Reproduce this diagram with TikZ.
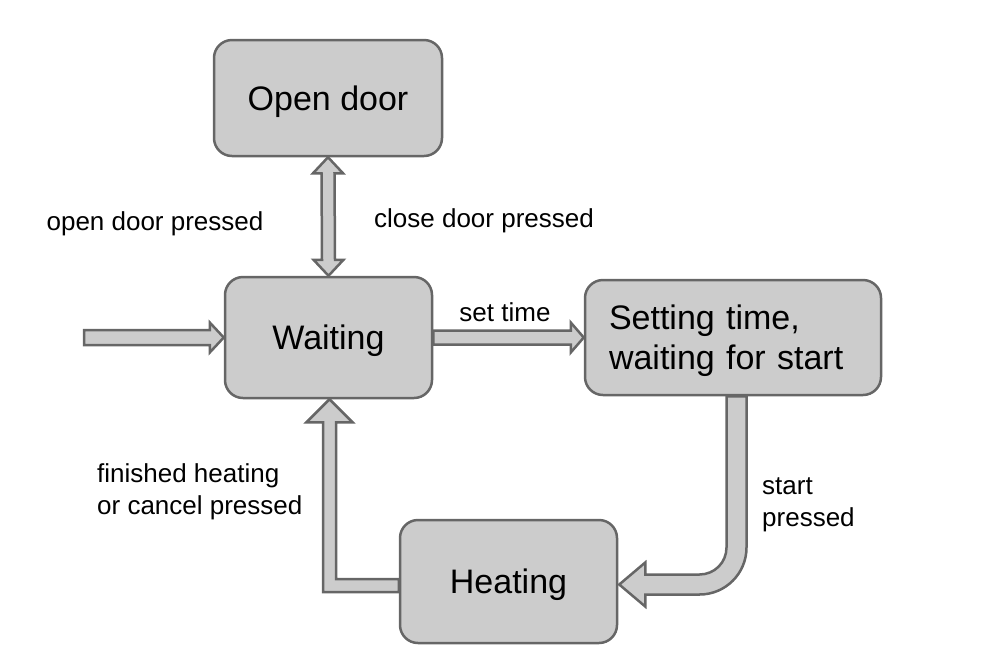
\documentclass[tikz,border=0pt]{standalone}
\usepackage{fontspec}
\setmainfont{Liberation Sans}
\usetikzlibrary{calc}
\definecolor{boxfill}{HTML}{CCCCCC}
\definecolor{edgegray}{HTML}{666666}
\pgfdeclarelayer{bg}
\pgfsetlayers{bg,main}
\begin{document}
\begin{tikzpicture}[x=1pt,y=-1pt,
  state/.style={draw=edgegray, fill=boxfill, line width=2.5pt, rounded corners=18pt, font=\fontsize{34}{40}\selectfont, inner sep=0pt, text height=24pt, text depth=0pt},
  blockarrow/.style={draw=edgegray, fill=boxfill, line width=2.5pt, line join=miter},
  lbl/.style={font=\fontsize{26}{32}\selectfont, inner sep=0pt}]
\useasboundingbox (0,0) rectangle (985,649);
\node[state, minimum width=228pt, minimum height=116pt] (door) at (328,98) {Open door};
\node[state, minimum width=207pt, minimum height=121pt] (wait) at (328.5,337.5) {Waiting};
\node[state, minimum width=296pt, minimum height=115pt, text width=248pt, inner xsep=24pt, align=left, text depth=40pt] (set) at (733,337.5) {Setting time,\\waiting for start};
\node[state, minimum width=217pt, minimum height=123pt] (heat) at (508.5,581.5) {Heating};

\node[lbl] (l1) at (155,224) {open door pressed};
\node[lbl] (l2) at (484,221) {close door pressed};
\node[lbl] (l3) at (505,312) {set time};
\node[lbl, anchor=west, align=left] (l4) at (97,492) {finished heating\\or cancel pressed};
\node[lbl, anchor=west, align=left] (l5) at (762,505) {start\\pressed};

\begin{pgfonlayer}{bg}
% door <-> waiting
\draw[blockarrow] (door.south) -- ($(door.south)+(15,16)$) -- ($(door.south)+(6.5,16)$) -- ($(wait.north)+(6.5,-16)$) -- ($(wait.north)+(15,-16)$) -- (wait.north) -- ($(wait.north)+(-15,-16)$) -- ($(wait.north)+(-6.5,-16)$) -- ($(door.south)+(-6.5,16)$) -- ($(door.south)+(-15,16)$) -- cycle;
% entry
\coordinate (in) at (84,337.5);
\draw[blockarrow] ($(in)+(0,-7.5)$) -- ($(wait.west)+(-14,-7.5)$) -- ($(wait.west)+(-14,-15)$) -- (wait.west) -- ($(wait.west)+(-14,15)$) -- ($(wait.west)+(-14,7.5)$) -- ($(in)+(0,7.5)$) -- cycle;
% set time
\draw[blockarrow] ($(wait.east)+(0,-7)$) -- ($(set.west)+(-13,-7)$) -- ($(set.west)+(-13,-15)$) -- (set.west) -- ($(set.west)+(-13,15)$) -- ($(set.west)+(-13,7)$) -- ($(wait.east)+(0,7)$) -- cycle;
% start pressed
\coordinate (sv) at ($(set.south)+(3.5,0)$);
\coordinate (sh) at ($(heat.east)+(1,3)$);
\coordinate (sc) at (sv |- sh);
\draw[blockarrow] ($(sv)+(10,0)$) -- ($(sc)+(10,-37)$) .. controls ($(sc)+(10,-11)$) and ($(sc)+(-11,10)$) .. ($(sc)+(-37,10)$) -- ($(sh)+(26,10)$) -- ($(sh)+(26,22)$) -- (sh) -- ($(sh)+(26,-22)$) -- ($(sh)+(26,-10)$) -- ($(sc)+(-37,-10)$) .. controls ($(sc)+(-22,-10)$) and ($(sc)+(-10,-22)$) .. ($(sc)+(-10,-37)$) -- ($(sv)+(-10,0)$) -- cycle;
% return to waiting
\coordinate (rt) at ($(wait.south)+(1,0)$);
\coordinate (rh) at ($(heat.west)+(0,4)$);
\coordinate (rc) at (rt |- rh);
\draw[blockarrow] ($(rh)+(0,6.5)$) -- ($(rc)+(-6.5,6.5)$) -- ($(rt)+(-6.5,23)$) -- ($(rt)+(-23,23)$) -- (rt) -- ($(rt)+(23,23)$) -- ($(rt)+(6.5,23)$) -- ($(rc)+(6.5,-6.5)$) -- ($(rh)+(0,-6.5)$) -- cycle;
\end{pgfonlayer}
\end{tikzpicture}
\end{document}
